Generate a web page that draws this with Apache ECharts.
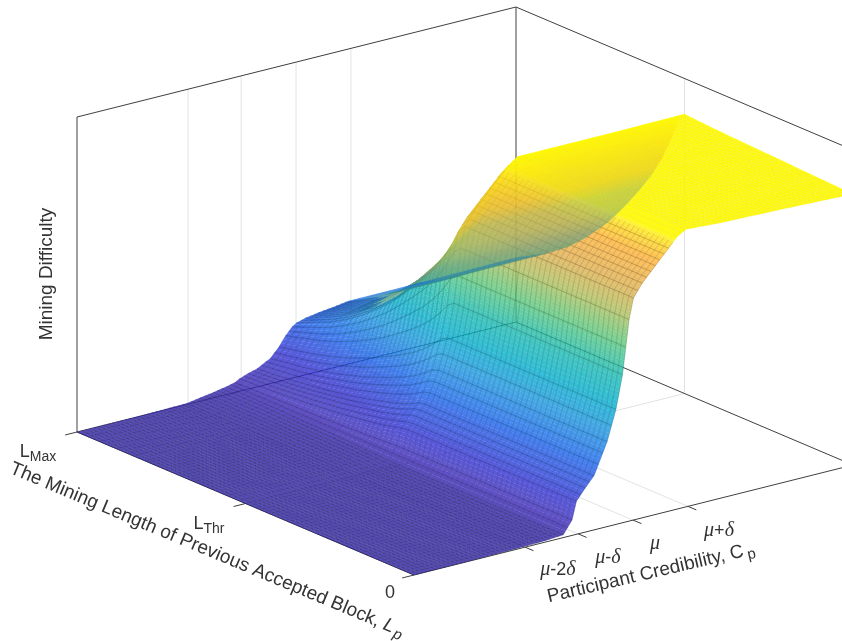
<!DOCTYPE html>
<html><head><meta charset="utf-8">
<style>html,body{margin:0;padding:0;background:#fff}#c{width:842px;height:641px}</style>
<script src="https://cdn.jsdelivr.net/npm/echarts@6/dist/echarts.min.js"></script>
</head><body><div id="c"></div>
<script>
// Participant credibility (0..1 across the axis), previous block length (0 = front, 1 = LMax)
const credibility = [0,.15,.25,.30,.34,.36,.37,.39,.41,.44,.46,.475,.49,.5,.52,.55,.58,.60,.62,.7,.85,1];
const blockLength = [0,.1,.2,.3,.4,.5,.52,.54,.57,.6,.64,.68,.72,.76,.8,.85,.9,.95,1];
// Mining difficulty, one row per blockLength, one column per credibility
const difficulty = [
[0,.001,.003,.005,.009,.049,.105,.14,.172,.27,.365,.47,.64,.705,.745,.79,.835,.865,.881,.874,.868,.86],
[0,.001,.003,.005,.009,.049,.105,.14,.172,.27,.365,.47,.64,.705,.745,.79,.835,.865,.882,.876,.871,.865],
[0,.001,.003,.005,.009,.049,.105,.14,.172,.27,.365,.47,.64,.705,.745,.79,.835,.865,.883,.878,.874,.87],
[0,.001,.003,.005,.009,.049,.105,.14,.172,.27,.365,.47,.64,.705,.745,.79,.835,.865,.884,.881,.878,.875],
[0,.001,.003,.005,.009,.049,.105,.14,.172,.27,.365,.47,.64,.705,.745,.79,.835,.865,.885,.883,.881,.88],
[0,.001,.003,.005,.009,.049,.105,.14,.172,.27,.365,.47,.64,.705,.745,.79,.835,.865,.885,.885,.885,.887],
[0,.001,.003,.005,.010,.048,.102,.136,.167,.261,.353,.454,.618,.68,.718,.762,.805,.834,.853,.853,.853,.855],
[0,.001,.003,.006,.011,.047,.096,.127,.156,.243,.329,.423,.572,.629,.664,.704,.743,.769,.787,.787,.787,.789],
[0,.001,.003,.008,.013,.045,.088,.117,.142,.221,.299,.384,.516,.566,.598,.633,.668,.691,.707,.707,.707,.709],
[0,.001,.003,.009,.015,.043,.082,.108,.132,.203,.274,.353,.471,.516,.544,.576,.607,.628,.642,.642,.643,.645],
[0,.001,.003,.010,.016,.041,.075,.099,.12,.183,.248,.319,.422,.461,.487,.514,.541,.559,.572,.572,.573,.575],
[0,.001,.004,.011,.018,.04,.069,.09,.109,.165,.224,.288,.377,.411,.433,.457,.48,.496,.507,.507,.508,.51],
[0,.001,.004,.011,.019,.038,.063,.082,.099,.148,.202,.259,.335,.364,.383,.404,.423,.437,.447,.447,.448,.45],
[0,.001,.004,.012,.02,.037,.059,.076,.091,.135,.183,.235,.3,.325,.342,.36,.377,.388,.397,.397,.398,.40],
[0,.001,.004,.013,.021,.036,.054,.07,.083,.122,.166,.213,.268,.289,.304,.32,.333,.343,.351,.351,.352,.354],
[0,.001,.004,.014,.023,.035,.05,.063,.075,.108,.148,.189,.234,.251,.264,.276,.287,.295,.301,.301,.303,.305],
[0,.001,.004,.014,.024,.034,.046,.058,.068,.097,.133,.17,.206,.22,.231,.241,.25,.256,.262,.262,.264,.265],
[0,.001,.004,.015,.024,.033,.043,.054,.063,.089,.121,.155,.184,.196,.205,.214,.221,.226,.231,.231,.233,.235],
[0,.001,.004,.015,.025,.032,.04,.05,.058,.08,.11,.14,.163,.172,.18,.187,.192,.196,.2,.2,.202,.204]
];
const credibilityTicks = [.253,.374,.499,.624];
const lengthTicks = [0,.5,1];

// Colour ramps of the surface: faces towards the viewer, and faces seen from behind
const frontRamp = [[0,62,50,172],[.03,62,44,182],[.1,49,49,211],[.2,24,99,236],[.3,24,149,224],[.38,0,173,205],
 [.47,24,186,174],[.56,86,199,124],[.65,170,190,90],[.73,224,174,74],[.8,255,175,50],[.84,255,215,20],[.86,255,250,0]];
const backRamp = [[0,62,50,172],[.1,49,49,211],[.2,24,110,230],[.25,50,140,170],[.3,87,160,130],[.4,113,162,130],[.52,163,183,103],[.6,175,190,90],[.68,230,200,47],[.8,250,225,20],[.885,255,250,0]];
function rampColor(ramp,z){
  for(let i=1;i<ramp.length;i++){ if(z<=ramp[i][0]){
    const a=ramp[i-1],b=ramp[i],t=(z-a[0])/(b[0]-a[0]);
    return [1,2,3].map(k=>Math.round(a[k]+(b[k]-a[k])*t));
  }}
  return ramp[ramp.length-1].slice(1);
}
// Fixed orthographic view of the 3D box onto the hidden plane axes
function project(c,l,z){ return [414+439*c-337*l, 575-110*c-143*l-315*z]; }
const MESH_C=.01, MESH_L=.0145, FLAT_CROSS=439*143+110*337;

const cells=[];
for(let j=0;j<blockLength.length-1;j++) for(let i=0;i<credibility.length-1;i++) cells.push([i,j]);

const edges=[[0,1,0,1,1,0],[1,1,0,1,0,0],[0,1,0,0,0,0],[0,0,0,1,0,0],[0,1,0,0,1,1],[1,1,0,1,1,1],[0,1,1,1,1,1],[1,1,1,1,0,1]];
const ticks=[];
credibilityTicks.forEach(c=>ticks.push([c,0,0,c,-.025,0]));
lengthTicks.forEach(l=>ticks.push([0,l,0,-.027,l,0]));
const gridLines=[];
credibilityTicks.forEach(c=>{gridLines.push([c,1,0,c,1,1]);gridLines.push([c,1,0,c,0,0]);});
gridLines.push([0,.5,0,1,.5,0]);gridLines.push([1,.5,0,1,.5,1]);

function segSeries(data,color,width,z){
  return {type:'custom',coordinateSystem:'cartesian2d',data,silent:true,clip:false,z,animation:false,
    renderItem(p,api){
      const d=[0,1,2,3,4,5].map(k=>api.value(k));
      const a=api.coord(project(d[0],d[1],d[2])),b=api.coord(project(d[3],d[4],d[5]));
      return {type:'line',shape:{x1:a[0],y1:a[1],x2:b[0],y2:b[1]},style:{stroke:color,lineWidth:width,fill:null}};
    }};
}
const surface={type:'custom',coordinateSystem:'cartesian2d',data:cells,silent:true,clip:false,z:5,animation:false,progressive:0,
  renderItem(p,api){
    const i=api.value(0),j=api.value(1);
    const c0=credibility[i],c1=credibility[i+1],l0=blockLength[j],l1=blockLength[j+1];
    const z00=difficulty[j][i],z10=difficulty[j][i+1],z01=difficulty[j+1][i],z11=difficulty[j+1][i+1];
    const nc=Math.max(1,Math.round((c1-c0)/MESH_C)),nl=Math.max(1,Math.round((l1-l0)/MESH_L));
    const kc=Math.min(8,Math.max(1,Math.ceil(Math.max(Math.abs(z10-z00),Math.abs(z11-z01))/nc/.012)));
    const kl=Math.min(8,Math.max(1,Math.ceil(Math.max(Math.abs(z01-z00),Math.abs(z11-z10))/nl/.012)));
    const P=(s,t)=>{const z=z00*(1-s)*(1-t)+z10*s*(1-t)+z01*(1-s)*t+z11*s*t;
      return {z,pt:api.coord(project(c0+(c1-c0)*s,l0+(l1-l0)*t,z))};};
    const A0=P(0,0).pt,B0=P(1,0).pt,D0=P(0,1).pt;
    const cross=((B0[0]-A0[0])*(D0[1]-A0[1])-(B0[1]-A0[1])*(D0[0]-A0[0]))/((c1-c0)*(l1-l0));
    const backFacing=cross>0, ratio=Math.abs(cross)/FLAT_CROSS, edgeOn=ratio<.35;
    const ramp=(backFacing||edgeOn)?backRamp:frontRamp;
    const children=[];
    const NS=nc*kc,NT=nl*kl;
    for(let b=0;b<NT;b++)for(let a=0;a<NS;a++){
      const A=P(a/NS,b/NT),B=P((a+1)/NS,b/NT),C=P((a+1)/NS,(b+1)/NT),D=P(a/NS,(b+1)/NT);
      const zm=(A.z+B.z+C.z+D.z)/4,col=rampColor(ramp,zm).join(',');
      const cm=c0+(c1-c0)*(a+.5)/NS;
      const thin=edgeOn&&cm>.78?Math.max(.08,ratio/.35):1;
      let alpha=backFacing||edgeOn?.6:(zm>.855?.94:.8+.06*Math.max(0,Math.min(1,(.05-zm)/.04)));
      alpha*=thin;
      children.push({type:'polygon',shape:{points:[A.pt,B.pt,C.pt,D.pt]},
        style:{fill:`rgba(${col},${alpha})`,stroke:`rgba(${col},${.25*thin})`,lineWidth:.4}});
    }
    if(!backFacing&&!edgeOn){
      for(let b=0;b<nl;b++)for(let a=0;a<nc;a++){
        const s0=a/nc,s1=(a+1)/nc,t0=b/nl,t1=(b+1)/nl;
        const zm=P((s0+s1)/2,(t0+t1)/2).z,col=rampColor(frontRamp,zm).map(v=>Math.round(v*.45)).join(',');
        const soft=zm>.85?.16:1;
        const isoL=[],isoC=[];
        for(let q=0;q<=kc;q++) isoL.push(P(s0+(s1-s0)*q/kc,t0).pt);
        for(let q=0;q<=kl;q++) isoC.push(P(s0,t0+(t1-t0)*q/kl).pt);
        children.push({type:'polyline',shape:{points:isoL},style:{fill:null,stroke:`rgba(${col},${.42*soft})`,lineWidth:.6}});
        children.push({type:'polyline',shape:{points:isoC},style:{fill:null,stroke:`rgba(${col},${.62*soft})`,lineWidth:.6}});
      }
    }
    return {type:'group',children};
  }};

const ink='#333333', tickInk='#555555';
const sans='"Liberation Sans"';
const richL={b:{fontFamily:sans,fontSize:18,color:ink},s:{fontFamily:sans,fontSize:14,color:ink,verticalAlign:'bottom',padding:[10,0,0,0]}};
function gtext(x,y,opts){return {type:'text',x,y,rotation:opts.rot||0,z:20,silent:true,style:Object.assign({fill:ink,fontFamily:sans,fontSize:18,align:'center',verticalAlign:'middle'},opts.style)};}
const tickRich={m:{fontFamily:'"Liberation Serif"',fontStyle:'italic',fontSize:20,color:tickInk},n:{fontFamily:sans,fontSize:18,color:tickInk}};
const graphics=[
 gtext(47,274,{rot:Math.PI/2,style:{text:'Mining Difficulty',fontSize:19}}),
 gtext(38,452,{style:{text:'{b|L}{s|Max}',rich:richL}}),
 gtext(209,524,{style:{text:'{b|L}{s|Thr}',rich:richL}}),
 gtext(390,593,{style:{text:'0',fontSize:18}}),
 gtext(207,550,{rot:-.396,style:{text:'The Mining Length of Previous Accepted Block, {l|L}{p|p}',fontSize:19,
    rich:{l:{fontFamily:sans,fontStyle:'italic',fontSize:19,color:ink},p:{fontFamily:sans,fontStyle:'italic',fontSize:15,color:ink,padding:[10,0,0,2]}}}}),
 gtext(651,573,{rot:.23,style:{text:'Participant Credibility, C{p|p}',fontSize:19,
    rich:{p:{fontFamily:sans,fontSize:15,color:ink,padding:[10,0,0,3]}}}}),
 gtext(558,570,{style:{text:'{m|μ}{n|-2}{m|δ}',rich:tickRich}}),
 gtext(608,558,{style:{text:'{m|μ}{n|-}{m|δ}',rich:tickRich}}),
 gtext(655,544,{style:{text:'{m|μ}',rich:tickRich}}),
 gtext(719,531,{style:{text:'{m|μ}{n|+}{m|δ}',rich:tickRich}})
];
const chart=echarts.init(document.getElementById('c'),null,{renderer:'canvas'});
chart.setOption({
  animation:false,backgroundColor:'#fff',
  grid:{left:0,right:0,top:0,bottom:0},
  xAxis:{type:'value',min:0,max:842,show:false},
  yAxis:{type:'value',min:0,max:641,inverse:true,show:false},
  graphic:graphics,
  series:[segSeries(gridLines,'#e3e3e3',1,1),segSeries(edges,'#404040',1,2),segSeries(ticks,'#404040',1,2),surface]
});
</script></body></html>
